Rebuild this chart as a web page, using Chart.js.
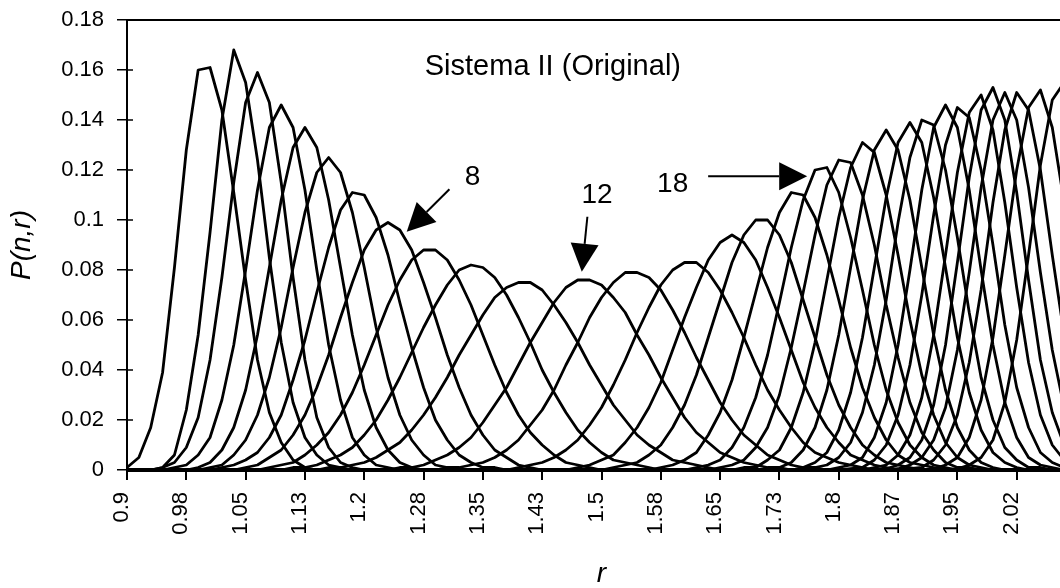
<!DOCTYPE html>
<html>
<head>
<meta charset="utf-8">
<script src="https://cdn.jsdelivr.net/npm/chart.js@4"></script>
<style>
  html, body { margin: 0; padding: 0; background: #fff; overflow: hidden; }
  #chart { display: block; }
</style>
</head>
<body>
<canvas id="chart" width="1100" height="588"></canvas>
<script>
// P(n,r) profiles for Sistema II (Original): one black curve per n,
// sampled on the r grid below (step 0.015, every 5th point labelled).

const R = [
    0.9, 0.915, 0.93, 0.945, 0.96, 0.975, 0.99, 1.005, 1.02, 1.035,
    1.05, 1.065, 1.08, 1.095, 1.11, 1.125, 1.14, 1.155, 1.17, 1.185,
    1.2, 1.215, 1.23, 1.245, 1.26, 1.275, 1.29, 1.305, 1.32, 1.335,
    1.35, 1.365, 1.38, 1.395, 1.41, 1.425, 1.44, 1.455, 1.47, 1.485,
    1.5, 1.515, 1.53, 1.545, 1.56, 1.575, 1.59, 1.605, 1.62, 1.635,
    1.65, 1.665, 1.68, 1.695, 1.71, 1.725, 1.74, 1.755, 1.77, 1.785,
    1.8, 1.815, 1.83, 1.845, 1.86, 1.875, 1.89, 1.905, 1.92, 1.935,
    1.95, 1.965, 1.98, 1.995, 2.01, 2.025, 2.04, 2.055, 2.07, 2.085,
    2.1
];

const X_LABELS = ['0.9', '0.98', '1.05', '1.13', '1.2', '1.28', '1.35', '1.43', '1.5',
                  '1.58', '1.65', '1.73', '1.8', '1.87', '1.95', '2.02', '2.1'];
const Y_LABELS = ['0', '0.02', '0.04', '0.06', '0.08', '0.1', '0.12', '0.14', '0.16', '0.18'];

// index into R where each curve's non-zero part begins (zero elsewhere)
const START = [0, 3, 3, 4, 6, 7, 8, 10, 12, 14, 17, 23, 27, 33, 38, 41,
               45, 48, 50, 52, 55, 57, 58, 60, 61, 63, 64, 65, 66, 68, 70];

const P1  = [0.001, 0.005, 0.017, 0.039, 0.081, 0.128, 0.160, 0.161, 0.144, 0.111, 0.076, 0.044, 0.023, 0.011, 0.004, 0.001];
const P2  = [0.001, 0.006, 0.024, 0.054, 0.095, 0.140, 0.168, 0.155, 0.124, 0.085, 0.051, 0.027, 0.013, 0.006, 0.002, 0.001];
const P3  = [0.001, 0.003, 0.009, 0.021, 0.044, 0.077, 0.115, 0.147, 0.159, 0.147, 0.115, 0.077, 0.044, 0.021, 0.009, 0.003, 0.001];
const P4  = [0.001, 0.002, 0.006, 0.013, 0.028, 0.050, 0.080, 0.112, 0.137, 0.146, 0.137, 0.112, 0.080, 0.050, 0.028, 0.013, 0.006, 0.002, 0.001];
const P5  = [0.001, 0.003, 0.008, 0.017, 0.032, 0.054, 0.081, 0.108, 0.129, 0.137, 0.129, 0.108, 0.081, 0.054, 0.032, 0.017, 0.008, 0.003, 0.001];
const P6  = [0.001, 0.002, 0.006, 0.012, 0.022, 0.037, 0.057, 0.081, 0.103, 0.119, 0.125, 0.119, 0.103, 0.081, 0.057, 0.037, 0.022, 0.012, 0.006, 0.002, 0.001];
const P7  = [0.001, 0.002, 0.004, 0.007, 0.013, 0.022, 0.036, 0.052, 0.071, 0.089, 0.104, 0.111, 0.110, 0.101, 0.086, 0.067, 0.049, 0.033, 0.020, 0.012, 0.006, 0.003, 0.001, 0.001];
const P8  = [0.001, 0.002, 0.005, 0.008, 0.014, 0.022, 0.033, 0.046, 0.061, 0.075, 0.088, 0.096, 0.099, 0.096, 0.088, 0.075, 0.061, 0.046, 0.033, 0.022, 0.014, 0.008, 0.005, 0.002, 0.001];
const P9  = [0.001, 0.002, 0.003, 0.006, 0.010, 0.015, 0.022, 0.031, 0.042, 0.054, 0.066, 0.076, 0.084, 0.088, 0.088, 0.084, 0.076, 0.066, 0.054, 0.042, 0.031, 0.022, 0.015, 0.010, 0.006, 0.003, 0.002, 0.001];
const P10 = [0.001, 0.001, 0.002, 0.004, 0.006, 0.009, 0.014, 0.020, 0.028, 0.037, 0.047, 0.057, 0.066, 0.074, 0.080, 0.082, 0.081, 0.077, 0.070, 0.061, 0.051, 0.040, 0.031, 0.023, 0.016, 0.011, 0.007, 0.004, 0.003, 0.002, 0.001];
const P11 = [0.001, 0.001, 0.002, 0.003, 0.005, 0.008, 0.011, 0.016, 0.022, 0.029, 0.037, 0.046, 0.054, 0.062, 0.069, 0.073, 0.075, 0.075, 0.072, 0.066, 0.059, 0.051, 0.042, 0.034, 0.026, 0.020, 0.014, 0.010, 0.007, 0.004, 0.003, 0.002, 0.001];
const P12 = [0.001, 0.001, 0.002, 0.004, 0.006, 0.009, 0.013, 0.019, 0.026, 0.033, 0.042, 0.051, 0.059, 0.067, 0.073, 0.076, 0.076, 0.074, 0.069, 0.063, 0.054, 0.046, 0.037, 0.029, 0.021, 0.015, 0.011, 0.007, 0.005, 0.003, 0.002, 0.001, 0.001];
const P13 = [0.001, 0.001, 0.002, 0.003, 0.005, 0.008, 0.012, 0.018, 0.024, 0.032, 0.042, 0.051, 0.061, 0.069, 0.075, 0.079, 0.079, 0.077, 0.072, 0.064, 0.055, 0.045, 0.036, 0.027, 0.020, 0.014, 0.010, 0.006, 0.004, 0.002, 0.001, 0.001];
const P14 = [0.001, 0.002, 0.003, 0.005, 0.008, 0.012, 0.018, 0.025, 0.034, 0.044, 0.055, 0.065, 0.074, 0.080, 0.083, 0.083, 0.079, 0.072, 0.063, 0.053, 0.042, 0.032, 0.024, 0.017, 0.011, 0.007, 0.005, 0.003, 0.002, 0.001];
const P15 = [0.001, 0.002, 0.004, 0.006, 0.011, 0.017, 0.025, 0.035, 0.048, 0.061, 0.073, 0.084, 0.091, 0.094, 0.091, 0.084, 0.073, 0.061, 0.048, 0.035, 0.025, 0.017, 0.011, 0.006, 0.004, 0.002, 0.001];
const P16 = [0.001, 0.002, 0.003, 0.006, 0.010, 0.017, 0.026, 0.038, 0.053, 0.068, 0.083, 0.094, 0.100, 0.100, 0.094, 0.083, 0.068, 0.053, 0.038, 0.026, 0.017, 0.010, 0.006, 0.003, 0.002, 0.001];
const P17 = [0.001, 0.002, 0.004, 0.007, 0.014, 0.023, 0.036, 0.053, 0.071, 0.089, 0.103, 0.111, 0.110, 0.101, 0.086, 0.068, 0.049, 0.033, 0.021, 0.012, 0.006, 0.003, 0.002, 0.001];
const P18 = [0.001, 0.002, 0.004, 0.009, 0.017, 0.029, 0.046, 0.067, 0.089, 0.108, 0.120, 0.121, 0.111, 0.093, 0.072, 0.050, 0.032, 0.019, 0.010, 0.005, 0.002, 0.001];
const P19 = [0.001, 0.002, 0.004, 0.009, 0.017, 0.030, 0.049, 0.071, 0.094, 0.114, 0.124, 0.123, 0.110, 0.090, 0.066, 0.045, 0.027, 0.015, 0.008, 0.003, 0.001, 0.001];
const P20 = [0.001, 0.001, 0.004, 0.008, 0.017, 0.031, 0.051, 0.076, 0.101, 0.121, 0.131, 0.127, 0.110, 0.086, 0.060, 0.038, 0.022, 0.011, 0.005, 0.002, 0.001];
const P21 = [0.001, 0.003, 0.008, 0.017, 0.032, 0.054, 0.081, 0.108, 0.128, 0.136, 0.128, 0.108, 0.081, 0.054, 0.032, 0.017, 0.008, 0.003, 0.001];
const P22 = [0.001, 0.003, 0.007, 0.016, 0.031, 0.053, 0.081, 0.109, 0.131, 0.139, 0.131, 0.109, 0.081, 0.053, 0.031, 0.016, 0.007, 0.003, 0.001];
const P23 = [0.001, 0.002, 0.005, 0.011, 0.023, 0.042, 0.068, 0.099, 0.125, 0.140, 0.138, 0.120, 0.093, 0.063, 0.037, 0.020, 0.009, 0.004, 0.001, 0.001];
const P24 = [0.001, 0.002, 0.005, 0.013, 0.027, 0.050, 0.080, 0.112, 0.137, 0.146, 0.137, 0.112, 0.080, 0.050, 0.027, 0.013, 0.005, 0.002, 0.001];
const P25 = [0.0005, 0.001, 0.004, 0.010, 0.022, 0.042, 0.070, 0.102, 0.130, 0.145, 0.141, 0.120, 0.090, 0.058, 0.033, 0.017, 0.007, 0.003, 0.001, 0.0005];
const P26 = [0.001, 0.002, 0.006, 0.014, 0.029, 0.054, 0.086, 0.119, 0.143, 0.150, 0.136, 0.107, 0.073, 0.043, 0.022, 0.010, 0.004, 0.001];
const P27 = [0.0005, 0.002, 0.005, 0.012, 0.026, 0.050, 0.083, 0.117, 0.144, 0.153, 0.140, 0.111, 0.076, 0.044, 0.023, 0.010, 0.004];
const P28 = [0.0005, 0.002, 0.005, 0.012, 0.025, 0.048, 0.079, 0.113, 0.140, 0.151, 0.140, 0.113, 0.079, 0.048, 0.025, 0.012];
const P29 = [0.0005, 0.001, 0.004, 0.010, 0.022, 0.043, 0.072, 0.107, 0.136, 0.151, 0.144, 0.120, 0.086, 0.054, 0.029];
const P30 = [0.0005, 0.002, 0.005, 0.013, 0.028, 0.053, 0.086, 0.120, 0.145, 0.152, 0.137, 0.107, 0.072];
const P31 = [0.0005, 0.002, 0.005, 0.012, 0.027, 0.052, 0.086, 0.122, 0.148, 0.155, 0.139];

const CURVES = [P1, P2, P3, P4, P5, P6, P7, P8, P9, P10, P11, P12, P13, P14, P15, P16,
                P17, P18, P19, P20, P21, P22, P23, P24, P25, P26, P27, P28, P29, P30, P31];

const FONT = '"Liberation Sans", Arial, sans-serif';

// labels and arrows inside the plot, placed in (r index, P) units
const CAPTION = { text: 'Sistema II (Original)', at: [35.9, 0.158] };
const NOTES = [
    { text: '8',  at: [29.13, 0.114],  tail: [27.18, 0.1123], tip: [23.58, 0.0953] },
    { text: '12', at: [39.63, 0.1068], tail: [38.81, 0.1013], tip: [38.34, 0.0793] },
    { text: '18', at: [46.0, 0.1112],  tail: [48.99, 0.1175], tip: [57.34, 0.1175] }
];

function fullSeries(start, vals) {
    return R.map((_, i) => (i >= start && i < start + vals.length) ? vals[i - start] : 0);
}

function drawArrow(ctx, x0, y0, x1, y1) {
    const a = Math.atan2(y1 - y0, x1 - x0);
    const len = 28, half = 14;
    const bx = x1 - len * Math.cos(a), by = y1 - len * Math.sin(a);
    ctx.beginPath();
    ctx.moveTo(x0, y0);
    ctx.lineTo(bx, by);
    ctx.stroke();
    ctx.beginPath();
    ctx.moveTo(x1, y1);
    ctx.lineTo(bx + half * Math.sin(a), by - half * Math.cos(a));
    ctx.lineTo(bx - half * Math.sin(a), by + half * Math.cos(a));
    ctx.closePath();
    ctx.fill();
}

// top edge of the plot box and the inward half of the y tick crosses
const framePlugin = {
    id: 'frame',
    afterDraw(chart) {
        const { ctx, chartArea: area, scales: { y } } = chart;
        ctx.save();
        ctx.strokeStyle = '#000';
        ctx.lineWidth = 2;
        ctx.beginPath();
        ctx.moveTo(area.left, area.top);
        ctx.lineTo(area.right, area.top);
        ctx.stroke();
        ctx.lineWidth = 1.5;
        y.ticks.forEach(t => {
            const py = y.getPixelForValue(t.value);
            ctx.beginPath();
            ctx.moveTo(area.left, py);
            ctx.lineTo(area.left + 6, py);
            ctx.stroke();
        });
        ctx.restore();
    }
};

const notesPlugin = {
    id: 'notes',
    afterDatasetsDraw(chart) {
        const { ctx, scales: { x, y } } = chart;
        const px = p => [x.getPixelForValue(p[0]), y.getPixelForValue(p[1])];
        ctx.save();
        ctx.fillStyle = '#000';
        ctx.strokeStyle = '#000';
        ctx.lineWidth = 2;
        ctx.textAlign = 'center';
        ctx.textBaseline = 'alphabetic';
        ctx.font = '29px ' + FONT;
        const c = px(CAPTION.at);
        ctx.fillText(CAPTION.text, c[0], c[1]);
        ctx.font = '28px ' + FONT;
        NOTES.forEach(n => {
            const t = px(n.at);
            ctx.fillText(n.text, t[0], t[1]);
            const a = px(n.tail), b = px(n.tip);
            drawArrow(ctx, a[0], a[1], b[0], b[1]);
        });
        ctx.restore();
    }
};

const labelled = ctx => ctx.index % 5 === 0 ? '#000' : 'rgba(0,0,0,0)';

new Chart(document.getElementById('chart'), {
    type: 'line',
    data: {
        labels: R,
        datasets: CURVES.map((vals, n) => ({
            label: 'n = ' + (n + 1),
            data: fullSeries(START[n], vals),
            borderColor: '#000',
            borderWidth: 2.8,
            borderJoinStyle: 'round',
            pointRadius: 0,
            tension: 0,
            fill: false
        }))
    },
    options: {
        responsive: false,
        animation: false,
        events: [],
        layout: { padding: { top: 20, right: 24, left: 0, bottom: 0 } },
        plugins: { legend: { display: false }, tooltip: { enabled: false } },
        scales: {
            x: {
                type: 'category',
                offset: false,
                // fixed box: plot runs from x=127 to the layout padding
                afterFit: s => { s.height = 118; s.paddingLeft = 0; s.paddingRight = 0; },
                border: { color: '#000', width: 3 },
                grid: { drawOnChartArea: false, drawTicks: true, tickLength: 10, lineWidth: 2, color: labelled, tickColor: labelled },
                ticks: {
                    autoSkip: false, minRotation: 90, maxRotation: 90, padding: 12, labelOffset: -5,
                    color: '#000', font: { family: FONT, size: 22 },
                    callback: (v, i) => i % 5 === 0 ? X_LABELS[i / 5] : ''
                },
                title: { display: true, text: 'r', color: '#000', padding: { top: 0, bottom: 0 },
                         font: { family: FONT, size: 28, style: 'italic', lineHeight: 1 } }
            },
            y: {
                min: 0,
                max: 0.18,
                afterFit: s => { s.width = 127; s.paddingTop = 0; s.paddingBottom = 0; },
                border: { color: '#000', width: 2 },
                grid: { drawOnChartArea: false, drawTicks: true, tickLength: 10, lineWidth: 1.5, color: '#000' },
                ticks: {
                    stepSize: 0.02, padding: 13, color: '#000', font: { family: FONT, size: 22 },
                    callback: (v, i) => Y_LABELS[i]
                },
                title: { display: true, text: 'P(n,r)', color: '#000', padding: { top: 8, bottom: 0 },
                         font: { family: FONT, size: 28, style: 'italic', lineHeight: 1 } }
            }
        }
    },
    plugins: [framePlugin, notesPlugin]
});
</script>
</body>
</html>
